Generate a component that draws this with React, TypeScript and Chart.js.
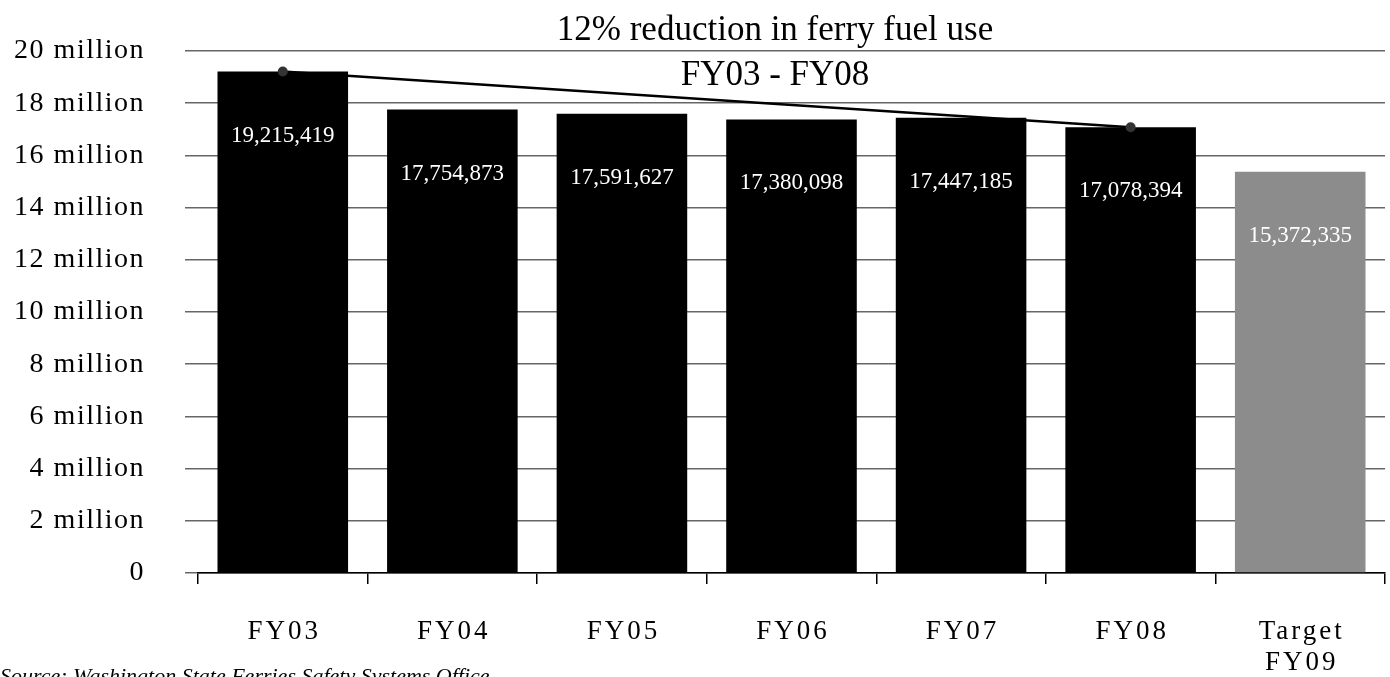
import React, { useEffect, useRef } from "react";
import { Chart, registerables } from "chart.js";

Chart.register(...registerables);

const categories: (string | string[])[] = ["FY03", "FY04", "FY05", "FY06", "FY07", "FY08", ["Target", "FY09"]];
const fuelUse = [19215419, 17754873, 17591627, 17380098, 17447185, 17078394, 15372335];
const trendValues = [19215419, null, null, null, null, 17078394, null];
const barColors = ["#000000", "#000000", "#000000", "#000000", "#000000", "#000000", "#8c8c8c"];
const titleLines = ["12% reduction in ferry fuel use", "FY03 - FY08"];
const sourceNote = "Source: Washington State Ferries Safety Systems Office";
const yMax = 20000000;
const yStep = 2000000;

const SERIF = '"Liberation Serif", "Times New Roman", serif';

const fmt = (v: number) => v.toLocaleString("en-US");

const overlay = {
  id: "overlay",
  beforeDraw(chart: any) {
    chart.ctx.letterSpacing = "1.5px";
  },
  afterDatasetsDraw(chart: any) {
    const ctx = chart.ctx;
    const meta = chart.getDatasetMeta(0);
    ctx.save();
    ctx.letterSpacing = "0px";
    ctx.font = `23px ${SERIF}`;
    ctx.fillStyle = "#ffffff";
    ctx.textAlign = "center";
    ctx.textBaseline = "middle";
    meta.data.forEach((bar: any, i: number) => {
      ctx.fillText(fmt(fuelUse[i]), bar.x, bar.y + 64);
    });
    ctx.restore();
  },
  afterDraw(chart: any) {
    const ctx = chart.ctx;
    const xScale = chart.scales.x;
    ctx.save();
    // x labels
    ctx.letterSpacing = "3px";
    ctx.font = `27px ${SERIF}`;
    ctx.fillStyle = "#000";
    ctx.textAlign = "center";
    ctx.textBaseline = "middle";
    categories.forEach((c, i) => {
      const x = xScale.getPixelForValue(i) + 1.5;
      const lines = Array.isArray(c) ? c : [c];
      lines.forEach((ln, j) => ctx.fillText(ln, x, 632 + j * 31));
    });
    // title
    ctx.letterSpacing = "0px";
    ctx.font = `35px ${SERIF}`;
    ctx.textBaseline = "alphabetic";
    ctx.fillText(titleLines[0], 775, 40);
    ctx.fillText(titleLines[1], 775, 85);
    // source
    ctx.textAlign = "left";
    ctx.font = `italic 22px ${SERIF}`;
    ctx.fillText(sourceNote, 0, 683);
    ctx.restore();
    ctx.letterSpacing = "0px";
  },
};

export default function App() {
  const ref = useRef<HTMLCanvasElement | null>(null);
  useEffect(() => {
    if (!ref.current) return;
    Chart.defaults.font.family = SERIF;
    const chart = new Chart(ref.current, {
      type: "bar",
      data: {
        labels: categories as any,
        datasets: [
          {
            type: "bar",
            data: fuelUse,
            backgroundColor: barColors,
            borderWidth: 0,
            barPercentage: 0.77,
            categoryPercentage: 1,
            order: 2,
          } as any,
          {
            type: "line",
            data: trendValues,
            spanGaps: true,
            borderColor: "#000",
            borderWidth: 2.5,
            pointRadius: 5,
            pointBackgroundColor: "#333",
            pointBorderWidth: 0,
            order: 0,
          } as any,
        ],
      },
      options: {
        responsive: false,
        animation: false,
        layout: { padding: { top: 51, right: 5, left: 0, bottom: 0 } },
        plugins: { legend: { display: false }, tooltip: { enabled: false }, title: { display: false } },
        scales: {
          x: {
            offset: true,
            grid: { offset: true, drawOnChartArea: false, drawTicks: true, tickLength: 11, color: "#000", lineWidth: 1.5 },
            border: { display: true, color: "#000", width: 1.5 },
            ticks: { display: false },
            afterFit: (scale: any) => {
              scale.height = 104;
              scale.paddingLeft = 0;
              scale.paddingRight = 0;
            },
          },
          y: {
            min: 0,
            max: yMax,
            grid: { color: "#666", lineWidth: 1.5, tickLength: 13, drawTicks: true },
            border: { display: false },
            ticks: {
              stepSize: yStep,
              padding: 40,
              color: "#000",
              font: { size: 28, family: SERIF },
              callback: (v: any) => (v === 0 ? "0" : `${v / 1000000} million`),
            },
            afterFit: (scale: any) => {
              scale.width = 198;
              scale.paddingTop = 0;
              scale.paddingBottom = 0;
            },
          },
        },
      },
      plugins: [overlay],
    });
    return () => chart.destroy();
  }, []);
  return (
    <div style={{ position: "absolute", left: 0, top: 0, width: 1390, height: 677, background: "#fff" }}>
      <canvas ref={ref} width={1390} height={677} />
    </div>
  );
}
